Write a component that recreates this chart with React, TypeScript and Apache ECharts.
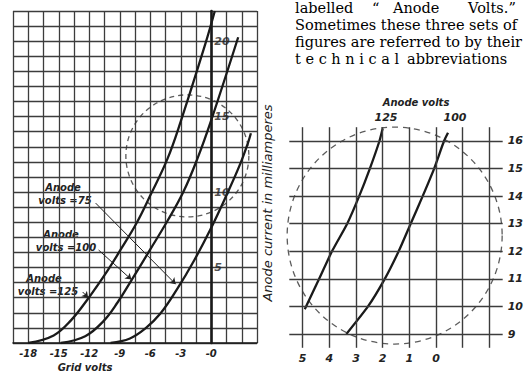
import React, { useEffect, useRef } from "react";
import * as echarts from "echarts";

// ---------- Left chart: grid volts vs anode current (mA) ----------
const gridVoltLabels = [-18, -15, -12, -9, -6, -3, 0];
const anodeCurrentLabels = [5, 10, 15, 20];

const curve125Volts = [-18, -15.5, -13.8, -12.16, -10.2, -8.9, -7.3, -5.98, -4.31, -3.04, -0.59, 0.35];
const curve125mA = [0, 0.5, 1.5, 2.9, 4.8, 6.2, 8.0, 9.8, 12.2, 14.6, 19.8, 22];

const curve100Volts = [-14.8, -12.4, -10.6, -9.2, -7.9, -6.0, -4.3, -2.75, -1.37, 0, 2.65];
const curve100mA = [0, 0.45, 1.45, 2.7, 4.1, 6.2, 8.1, 10.0, 12.2, 14.77, 20.26];

const curve75Volts = [-9.9, -8.0, -6.5, -5.0, -3.33, -1.7, -0.1, 1.57, 2.84, 3.63, 3.9];
const curve75mA = [0, 0.3, 0.95, 1.95, 3.6, 5.45, 7.5, 9.9, 11.85, 13.3, 13.9];

const leftCircleCentre = [-2.35, 12.4];

// annotation arrows: [from volts, from mA, to volts, to mA]
const arrow75 = [-11.37, 9.27, -3.5, 3.9];
const arrow100 = [-11.08, 6.16, -7.85, 4.2];
const arrow125 = [-12.65, 3.38, -12.1, 3.0];

// ---------- Right chart: enlarged portion ----------
const rightVoltLabels = [5, 4, 3, 2, 1, 0];
const rightVoltLines = [5, 4, 3, 2, 1, 0, -1, -2];
const rightCurrentTicks = [9, 10, 11, 12, 13, 14, 15, 16];

const line125Volts = [4.92, 4.38, 3.9, 3.33, 2.88, 2.48, 2.12, 2.0];
const line125mA = [9.9, 11, 12, 13, 14, 15, 16, 16.45];

const line100Volts = [3.36, 2.55, 1.92, 1.4, 0.95, 0.5, 0.07, -0.3, -0.45];
const line100mA = [9, 10, 11, 12, 13, 14, 15, 16, 16.3];

const rightCircleCentre = [1.55, 12.57];

const paragraphLines = [
  "Sometimes these three sets of",
  "figures are referred to by their",
];

const zip = (xs: number[], ys: number[]) => xs.map((x, i) => [x, ys[i]]);

const INK = "#1a1a1a";
const GRIDC = "#3c3c3c";
const HAND = '"DejaVu Sans"';
const SERIF = '"DejaVu Serif"';

function handText(text: string, x: number, y: number, size = 10, rotation = 0, weight = "bold") {
  return {
    type: "text",
    x,
    y,
    rotation,
    silent: true,
    style: {
      text,
      fill: "#222",
      font: `italic ${weight} ${size}px ${HAND}`,
      align: "center",
      verticalAlign: "middle",
    },
  };
}

function serifText(text: string, x: number, y: number) {
  return {
    type: "text",
    x,
    y,
    silent: true,
    style: {
      text,
      fill: "#000",
      font: `14.5px ${SERIF}`,
      align: "left",
      verticalAlign: "middle",
    },
  };
}

export default function App() {
  const ref = useRef<HTMLDivElement>(null);

  useEffect(() => {
    document.body.style.margin = "0";
    if (!ref.current) return;
    const chart = echarts.init(ref.current, undefined, { renderer: "svg" });

    const labelBase = {
      fontFamily: HAND,
      fontStyle: "italic",
      fontWeight: "bold",
      color: "#222",
    };

    const curveStyle = { color: INK, width: 2.3 };

    const arrowData = [arrow75, arrow100, arrow125].map((a) => [
      { coord: [a[0], a[1]] },
      { coord: [a[2], a[3]] },
    ]);

    const option: any = {
      animation: false,
      backgroundColor: "#ffffff",
      grid: [
        { left: 13, top: 11, width: 244, height: 332 },
        { left: 289.3, top: 127.2, width: 219.2, height: 220.6 },
      ],
      xAxis: [
        {
          type: "value",
          gridIndex: 0,
          min: -19.5,
          max: 4.5,
          interval: 1.5,
          axisLine: { show: true, lineStyle: { color: INK, width: 1.6 } },
          axisTick: { show: false },
          splitLine: { show: true, lineStyle: { color: GRIDC, width: 1.3 } },
          axisLabel: {
            ...labelBase,
            fontSize: 10,
            margin: 5,
            formatter: (v: number) =>
              gridVoltLabels.includes(v) ? (v === 0 ? "-0" : String(v)) : "",
          },
        },
        {
          type: "value",
          gridIndex: 1,
          inverse: true,
          min: -2.5,
          max: 5.5,
          interval: 0.5,
          axisLine: { show: false },
          axisTick: { show: false },
          splitLine: { show: false },
          axisLabel: {
            ...labelBase,
            fontSize: 11,
            margin: 5,
            formatter: (v: number) => (rightVoltLabels.includes(v) ? String(v) : ""),
          },
        },
      ],
      yAxis: [
        {
          type: "value",
          gridIndex: 0,
          min: 0,
          max: 22,
          interval: 1,
          axisLine: { show: true, onZero: true, lineStyle: { color: INK, width: 2.6 } },
          axisTick: { show: false },
          splitLine: { show: true, lineStyle: { color: GRIDC, width: 1.3 } },
          axisLabel: { show: false },
        },
        {
          type: "value",
          gridIndex: 1,
          position: "right",
          min: 8.5,
          max: 16.5,
          interval: 0.5,
          axisLine: { show: false },
          axisTick: { show: false },
          splitLine: { show: false },
          axisLabel: {
            ...labelBase,
            fontSize: 11,
            margin: 5,
            formatter: (v: number) => (rightCurrentTicks.includes(v) ? String(v) : ""),
          },
        },
      ],
      series: [
        {
          type: "line",
          xAxisIndex: 0,
          yAxisIndex: 0,
          data: zip(curve125Volts, curve125mA),
          smooth: 0.4,
          symbol: "none",
          lineStyle: curveStyle,
          z: 4,
          markLine: {
            silent: true,
            symbol: ["none", "arrow"],
            symbolSize: 6,
            label: { show: false },
            lineStyle: { type: "solid", color: "#222", width: 1 },
            data: arrowData,
          },
        },
        {
          type: "line",
          xAxisIndex: 0,
          yAxisIndex: 0,
          data: zip(curve100Volts, curve100mA),
          smooth: 0.4,
          symbol: "none",
          lineStyle: curveStyle,
          z: 4,
        },
        {
          type: "line",
          xAxisIndex: 0,
          yAxisIndex: 0,
          data: zip(curve75Volts, curve75mA),
          smooth: 0.4,
          symbol: "none",
          lineStyle: curveStyle,
          z: 4,
        },
        {
          // current labels written beside the 0-volt line
          type: "scatter",
          xAxisIndex: 0,
          yAxisIndex: 0,
          data: anodeCurrentLabels.map((v) => [0, v]),
          symbolSize: 0,
          silent: true,
          label: {
            show: true,
            position: "right",
            distance: 3,
            ...labelBase,
            fontSize: 11,
            formatter: (p: any) => String(p.value[1]),
          },
          z: 5,
        },
        {
          type: "scatter",
          xAxisIndex: 0,
          yAxisIndex: 0,
          data: [leftCircleCentre],
          symbol: "circle",
          symbolSize: [123, 122],
          silent: true,
          itemStyle: {
            color: "rgba(0,0,0,0)",
            borderColor: "#333",
            borderWidth: 1.3,
            borderType: [5, 4],
          },
          z: 3,
        },
        {
          type: "line",
          xAxisIndex: 1,
          yAxisIndex: 1,
          data: zip(line125Volts, line125mA),
          smooth: 0.2,
          symbol: "none",
          lineStyle: curveStyle,
          z: 4,
          markLine: {
            silent: true,
            symbol: ["none", "none"],
            label: { show: false },
            lineStyle: { type: "solid", color: GRIDC, width: 1.4 },
            data: [
              ...rightVoltLines.map((v) => ({ xAxis: v })),
              ...rightCurrentTicks.map((v) => ({ yAxis: v })),
            ],
          },
        },
        {
          type: "line",
          xAxisIndex: 1,
          yAxisIndex: 1,
          data: zip(line100Volts, line100mA),
          smooth: 0.2,
          symbol: "none",
          lineStyle: curveStyle,
          z: 4,
        },
        {
          type: "scatter",
          xAxisIndex: 1,
          yAxisIndex: 1,
          data: [rightCircleCentre],
          symbol: "circle",
          symbolSize: [215, 217],
          silent: true,
          itemStyle: {
            color: "rgba(0,0,0,0)",
            borderColor: "#333",
            borderWidth: 1.3,
            borderType: [6, 5],
          },
          z: 3,
        },
      ],
      graphic: [
        // paragraph (top right)
        serifText("labelled", 295, 8),
        serifText("\u201C", 372, 8),
        serifText("Anode", 393, 8),
        serifText("Volts.\u201D", 468, 8),
        serifText(paragraphLines[0], 295, 25),
        serifText(paragraphLines[1], 295, 42),
        serifText("t e c h n i c a l", 295, 59),
        serifText("abbreviations", 407, 59),
        // left chart annotations
        handText("Anode", 63, 187),
        handText("volts =75", 65, 200),
        handText("Anode", 61, 234),
        handText("volts =100", 66, 247),
        handText("Anode", 44, 278),
        handText("volts =125", 48, 291),
        handText("Grid volts", 85, 367),
        // right chart annotations
        handText("Anode volts", 416, 102),
        handText("125", 386, 117, 11),
        handText("100", 455, 117, 11),
        handText("Anode current in milliamperes", 267, 203, 13, Math.PI / 2, "normal"),
      ],
    };

    chart.setOption(option);
    return () => chart.dispose();
  }, []);

  return <div ref={ref} style={{ width: 526, height: 374 }} />;
}
